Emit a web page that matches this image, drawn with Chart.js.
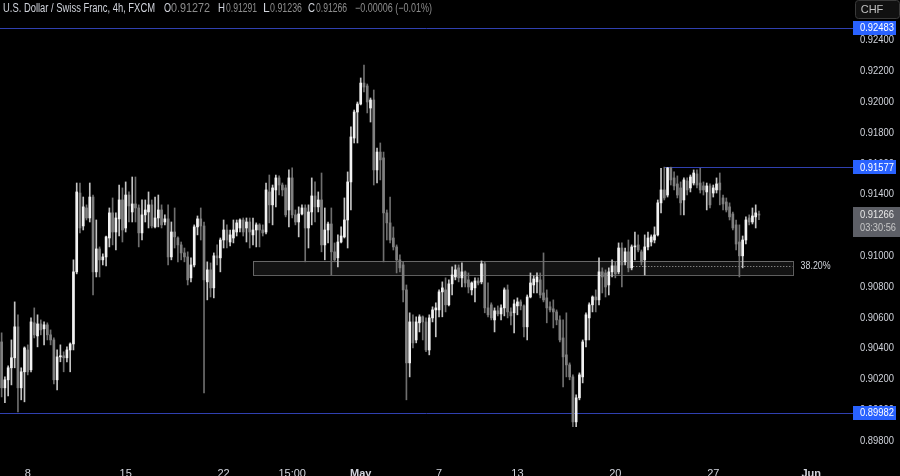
<!DOCTYPE html>
<html><head><meta charset="utf-8">
<script src="https://cdn.jsdelivr.net/npm/chart.js@4.4.1/dist/chart.umd.min.js"></script>
<style>html,body{margin:0;padding:0;background:#000;}#wrap{position:relative;width:900px;height:476px;}</style>
</head><body><div id="wrap"><canvas id="c"></canvas></div>
<script>
// ---- data (USD/CHF 4h, FXCM) ----
const opens = [
0.90442,0.90144,0.90196,0.90274,0.90339,0.90540,0.90144,0.90248,0.90390,0.90261,
0.90566,0.90481,0.90559,0.90527,0.90553,0.90488,0.90455,0.90196,0.90345,0.90352,
0.90339,0.90390,0.90429,0.90897,0.91409,0.91195,0.91312,0.91247,0.91383,0.90897,
0.91046,0.90975,0.90994,0.91117,0.91280,0.91156,0.91241,0.91364,0.91182,0.91396,
0.91286,0.91338,0.91312,0.91150,0.91267,0.91286,0.91332,0.91189,0.91247,0.91299,
0.91221,0.91241,0.90994,0.91156,0.91117,0.91072,0.91020,0.90994,0.90858,0.90942,
0.91189,0.91241,0.91195,0.90832,0.90910,0.90793,0.91001,0.90988,0.91104,0.91169,
0.91091,0.91117,0.91156,0.91182,0.91234,0.91182,0.91221,0.91137,0.91169,0.91202,
0.91169,0.91156,0.91416,0.91332,0.91429,0.91507,0.91461,0.91442,0.91299,0.91507,
0.91267,0.91221,0.91273,0.91312,0.91182,0.91286,0.91390,0.91319,0.91364,0.91072,
0.91169,0.91208,0.91027,0.90988,0.91091,0.91124,0.91234,0.91481,0.91766,0.91935,
0.91987,0.92123,0.92104,0.91961,0.92013,0.91559,0.91675,0.91637,0.91280,0.91215,
0.91117,0.91059,0.90975,0.90942,0.90780,0.90306,0.90572,0.90455,0.90566,0.90605,
0.90572,0.90390,0.90598,0.90650,0.90650,0.90767,0.90780,0.90683,0.90819,0.90864,
0.90923,0.90858,0.90897,0.90845,0.90780,0.90793,0.90838,0.90832,0.90949,0.90663,
0.90683,0.90585,0.90644,0.90624,0.90663,0.90780,0.90637,0.90631,0.90676,0.90702,
0.90676,0.90540,0.90734,0.90812,0.90832,0.90845,0.90760,0.90728,0.90670,0.90657,
0.90637,0.90585,0.90468,0.90358,0.90293,0.90215,0.89923,0.90079,0.90215,0.90455,
0.90598,0.90683,0.90734,0.90715,0.90897,0.90890,0.90812,0.90897,0.90936,0.90897,
0.91052,0.90962,0.91027,0.90923,0.91059,0.91072,0.91027,0.90975,0.91059,0.91091,
0.91104,0.91137,0.91345,0.91429,0.91396,0.91572,0.91507,0.91468,0.91442,0.91364,
0.91487,0.91442,0.91474,0.91533,0.91474,0.91455,0.91416,0.91455,0.91409,0.91429,
0.91474,0.91377,0.91351,0.91319,0.91273,0.91202,0.91091,0.91001,0.91104,0.91247,
0.91221,0.91254,0.91272];
const highs = [
0.90501,0.90215,0.90287,0.90455,0.90702,0.90618,0.90274,0.90410,0.90423,0.90598,
0.90663,0.90618,0.90585,0.90572,0.90566,0.90520,0.90468,0.90390,0.90423,0.90378,
0.90410,0.90436,0.90975,0.91474,0.91474,0.91383,0.91332,0.91474,0.91396,0.91234,
0.91059,0.91014,0.91130,0.91312,0.91377,0.91280,0.91461,0.91442,0.91481,0.91416,
0.91513,0.91513,0.91332,0.91364,0.91364,0.91416,0.91364,0.91383,0.91396,0.91332,
0.91267,0.91332,0.91221,0.91312,0.91124,0.91091,0.91052,0.91027,0.90988,0.91202,
0.91260,0.91312,0.91221,0.90962,0.90955,0.91020,0.91072,0.91117,0.91234,0.91202,
0.91169,0.91234,0.91234,0.91241,0.91247,0.91247,0.91247,0.91247,0.91215,0.91210,
0.91202,0.91474,0.91526,0.91461,0.91526,0.91520,0.91474,0.91461,0.91559,0.91572,
0.91299,0.91319,0.91332,0.91332,0.91332,0.91507,0.91481,0.91416,0.91539,0.91312,
0.91221,0.91312,0.91085,0.91137,0.91189,0.91377,0.91546,0.91838,0.91948,0.92000,
0.92156,0.92240,0.92117,0.92026,0.92078,0.91701,0.91734,0.91675,0.91299,0.91383,
0.91189,0.91072,0.91007,0.90962,0.90812,0.90631,0.90618,0.90605,0.90618,0.90611,
0.90598,0.90618,0.90670,0.90696,0.90780,0.90832,0.90858,0.90845,0.90929,0.90942,
0.90942,0.90955,0.90903,0.90890,0.90832,0.90858,0.90858,0.90968,0.90962,0.90825,
0.90696,0.90663,0.90676,0.90683,0.90793,0.90812,0.90663,0.90715,0.90728,0.90715,
0.90683,0.90747,0.90890,0.90871,0.90890,0.90890,0.91020,0.90780,0.90702,0.90715,
0.90650,0.90611,0.90585,0.90631,0.90306,0.90228,0.90098,0.90241,0.90455,0.90631,
0.90696,0.90741,0.90780,0.90988,0.90923,0.90910,0.90923,0.90975,0.90962,0.91085,
0.91085,0.91052,0.91104,0.91072,0.91156,0.91137,0.91039,0.91137,0.91156,0.91137,
0.91189,0.91364,0.91570,0.91577,0.91575,0.91577,0.91546,0.91520,0.91481,0.91507,
0.91507,0.91526,0.91559,0.91559,0.91570,0.91481,0.91474,0.91468,0.91461,0.91507,
0.91539,0.91396,0.91377,0.91345,0.91286,0.91234,0.91202,0.91130,0.91254,0.91267,
0.91312,0.91332,0.91291];
const lows = [
0.90085,0.90047,0.90092,0.90163,0.90274,0.89988,0.90066,0.90053,0.90228,0.90248,
0.90468,0.90410,0.90488,0.90423,0.90455,0.90423,0.90170,0.90131,0.90313,0.90248,
0.90313,0.90248,0.90390,0.90884,0.91150,0.91169,0.91234,0.91221,0.90747,0.90864,
0.90864,0.90942,0.90936,0.91059,0.91072,0.91039,0.91130,0.91091,0.91156,0.91221,
0.91221,0.91221,0.91059,0.91104,0.91221,0.91182,0.91182,0.91182,0.91189,0.91182,
0.91202,0.90942,0.90975,0.91052,0.90962,0.90975,0.90962,0.90812,0.90832,0.90929,
0.91137,0.91104,0.90111,0.90715,0.90734,0.90728,0.90942,0.90897,0.91052,0.91052,
0.91065,0.91085,0.91130,0.91156,0.91130,0.91091,0.91052,0.91072,0.91059,0.91059,
0.91130,0.91143,0.91215,0.91202,0.91319,0.91396,0.91390,0.91254,0.91189,0.91247,
0.91202,0.91124,0.91267,0.90962,0.91052,0.91202,0.91221,0.91286,0.91027,0.90975,
0.91085,0.90877,0.90962,0.90929,0.91085,0.91117,0.91052,0.91299,0.91734,0.91734,
0.91981,0.92065,0.91929,0.91870,0.91461,0.91474,0.91494,0.90962,0.91104,0.91085,
0.91039,0.90890,0.90897,0.90702,0.90066,0.90215,0.90403,0.90436,0.90507,0.90455,
0.90378,0.90358,0.90572,0.90475,0.90605,0.90605,0.90637,0.90676,0.90747,0.90845,
0.90832,0.90799,0.90799,0.90760,0.90747,0.90702,0.90812,0.90819,0.90631,0.90605,
0.90585,0.90507,0.90611,0.90585,0.90611,0.90598,0.90553,0.90501,0.90618,0.90650,
0.90475,0.90455,0.90728,0.90760,0.90760,0.90728,0.90702,0.90566,0.90637,0.90533,
0.90553,0.90442,0.90150,0.90215,0.90196,0.89891,0.89891,0.90066,0.90176,0.90410,
0.90455,0.90637,0.90637,0.90683,0.90760,0.90734,0.90747,0.90864,0.90858,0.90884,
0.90799,0.90942,0.90897,0.90910,0.90975,0.91027,0.90942,0.90877,0.91039,0.91065,
0.91085,0.91130,0.91280,0.91364,0.91383,0.91461,0.91429,0.91377,0.91267,0.91267,
0.91396,0.91416,0.91461,0.91442,0.91409,0.91396,0.91299,0.91312,0.91383,0.91409,
0.91332,0.91299,0.91286,0.91234,0.91169,0.91039,0.90864,0.90923,0.91078,0.91202,
0.91208,0.91182,0.91236];
const closes = [
0.90144,0.90196,0.90274,0.90339,0.90540,0.90144,0.90248,0.90403,0.90248,0.90572,
0.90488,0.90559,0.90520,0.90553,0.90488,0.90455,0.90196,0.90345,0.90352,0.90339,
0.90390,0.90429,0.90897,0.91416,0.91182,0.91319,0.91247,0.91383,0.90897,0.91046,
0.90975,0.90994,0.91124,0.91280,0.91156,0.91247,0.91364,0.91169,0.91396,0.91325,
0.91338,0.91312,0.91150,0.91267,0.91299,0.91332,0.91195,0.91247,0.91299,0.91202,
0.91241,0.90994,0.91156,0.91124,0.91072,0.91020,0.90994,0.90845,0.90942,0.91189,
0.91241,0.91195,0.90845,0.90910,0.90793,0.91001,0.90988,0.91104,0.91169,0.91104,
0.91137,0.91169,0.91215,0.91234,0.91156,0.91221,0.91156,0.91169,0.91202,0.91169,
0.91150,0.91429,0.91332,0.91442,0.91507,0.91461,0.91429,0.91267,0.91507,0.91267,
0.91221,0.91273,0.91312,0.91182,0.91286,0.91390,0.91319,0.91364,0.91072,0.91169,
0.91208,0.91027,0.90975,0.91091,0.91130,0.91234,0.91481,0.91773,0.91935,0.91987,
0.92123,0.92097,0.92000,0.92013,0.91559,0.91675,0.91624,0.91280,0.91215,0.91104,
0.91059,0.90975,0.90923,0.90780,0.90306,0.90572,0.90436,0.90572,0.90605,0.90572,
0.90390,0.90598,0.90650,0.90663,0.90767,0.90793,0.90683,0.90819,0.90877,0.90910,
0.90858,0.90897,0.90825,0.90799,0.90825,0.90838,0.90825,0.90949,0.90663,0.90618,
0.90598,0.90644,0.90624,0.90663,0.90780,0.90637,0.90611,0.90689,0.90702,0.90676,
0.90540,0.90734,0.90825,0.90851,0.90864,0.90747,0.90715,0.90663,0.90650,0.90637,
0.90585,0.90455,0.90345,0.90293,0.90215,0.89923,0.90079,0.90228,0.90442,0.90618,
0.90683,0.90734,0.90715,0.90897,0.90864,0.90799,0.90897,0.90936,0.90884,0.91052,
0.90942,0.91027,0.90923,0.91059,0.91065,0.91039,0.90962,0.91059,0.91117,0.91124,
0.91137,0.91345,0.91429,0.91377,0.91572,0.91494,0.91455,0.91396,0.91345,0.91494,
0.91429,0.91513,0.91539,0.91461,0.91429,0.91429,0.91455,0.91332,0.91442,0.91468,
0.91429,0.91338,0.91299,0.91254,0.91182,0.91078,0.91001,0.91104,0.91234,0.91221,
0.91260,0.91280,0.91266];

const totalSlots = 261;                       // bar slots incl. empty right margin
const tickLabels = {8:'8',38:'15',68:'22',89:'15:00',110:'May',134:'7',158:'13',188:'20',218:'27',248:'Jun'};
const boldTicks = ['May','Jun'];
const priceTicks = [0.898,0.900,0.902,0.904,0.906,0.908,0.910,0.912,0.914,0.916,0.918,0.920,0.922,0.924];
const priceMin = 0.897403, priceMax = 0.926623;
const levels = [{price:0.92483, fromIdx:null},{price:0.91577, fromIdx:203},{price:0.89982, fromIdx:null}];
const lastPrice = 0.91266, countdown = '03:30:56';
const zone = {fromIdx:77, toIdx:242.3, top:0.90968, bottom:0.90877, fib:0.90935, fibFromIdx:193.5, fibLabel:'38.20%'};
const headerTitle = 'U.S. Dollar / Swiss Franc, 4h, FXCM';
const ohlcText = [['O','0.91272'],['H','0.91291'],['L','0.91236'],['C','0.91266']];
const changeText = '\u22120.00006 (\u22120.01%)';
const currency = 'CHF';

const FONT = '"Liberation Sans", Arial, sans-serif';
const upBody = '#f2f2f2', dnBody = '#808080', upWick = '#c4c4c4', dnWick = '#6e6e6e';
const isUp = closes.map((c,i)=>c>=opens[i]);

const overlay = {
  id:'overlay',
  beforeDatasetsDraw(chart){
    const {ctx, chartArea:a, scales:{x,y}} = chart;
    ctx.save();
    const zx1 = x.getPixelForValue(zone.fromIdx), zx2 = x.getPixelForValue(zone.toIdx);
    const zy1 = y.getPixelForValue(zone.top), zy2 = y.getPixelForValue(zone.bottom);
    ctx.fillStyle = 'rgba(255,255,255,0.075)';
    ctx.fillRect(zx1, zy1, zx2-zx1, zy2-zy1);
    ctx.strokeStyle = 'rgba(190,190,190,0.5)'; ctx.lineWidth = 1;
    ctx.strokeRect(Math.round(zx1)+0.5, Math.round(zy1)+0.5, Math.round(zx2-zx1), Math.round(zy2-zy1));
    const fy = Math.round(y.getPixelForValue(zone.fib))+0.5;
    ctx.setLineDash([1,2]); ctx.strokeStyle = 'rgba(210,210,210,0.8)';
    ctx.beginPath(); ctx.moveTo(x.getPixelForValue(zone.fibFromIdx), fy); ctx.lineTo(zx2, fy); ctx.stroke();
    ctx.setLineDash([]);
    ctx.strokeStyle = '#3040b0'; ctx.lineWidth = 1;
    levels.forEach(l=>{
      const ly = Math.round(y.getPixelForValue(l.price))+0.5;
      const lx = l.fromIdx===null ? a.left : x.getPixelForValue(l.fromIdx);
      ctx.beginPath(); ctx.moveTo(lx, ly); ctx.lineTo(a.right+1, ly); ctx.stroke();
    });
    ctx.restore();
  },
  afterDraw(chart){
    const {ctx, chartArea:a, scales:{x,y}} = chart;
    ctx.save();
    ctx.textBaseline = 'middle';
    ctx.font = '11px '+FONT; ctx.fillStyle = '#d1d4dc'; ctx.textAlign = 'left';
    priceTicks.forEach(p=>{ ctx.fillText(p.toFixed(5), 860, y.getPixelForValue(p), 34); });
    levels.forEach(l=>{
      const ly = y.getPixelForValue(l.price);
      ctx.fillStyle = '#2962ff'; ctx.fillRect(853, Math.round(ly)-7, 43, 14);
      ctx.fillStyle = '#ffffff'; ctx.fillText(l.price.toFixed(5), 860, ly+0.5, 34);
    });
    const py = y.getPixelForValue(lastPrice);
    ctx.fillStyle = '#5d5f66'; ctx.fillRect(853, Math.round(py)-8, 47, 30);
    ctx.fillStyle = '#e8e8e8'; ctx.fillText(lastPrice.toFixed(5), 860, py, 34);
    ctx.fillStyle = '#c8c8c8'; ctx.fillText(countdown, 860, py+13, 36);
    ctx.strokeStyle = '#3a3a3a'; ctx.fillStyle = '#111';
    ctx.beginPath(); ctx.roundRect(855.5, 0.5, 44, 18, 3); ctx.fill(); ctx.stroke();
    ctx.fillStyle = '#c0c0c0'; ctx.textAlign = 'center'; ctx.fillText(currency, 872, 10);
    ctx.textAlign = 'left'; ctx.fillStyle = '#d1d4dc'; ctx.font = '11px '+FONT;
    ctx.fillText(zone.fibLabel, x.getPixelForValue(zone.toIdx)+8, y.getPixelForValue(zone.fib), 30);
    ctx.font = '12px '+FONT; ctx.fillStyle = '#d1d4dc';
    ctx.fillText(headerTitle, 3, 9, 152);
    const pos = [[164,171,39],[218,226,31],[263,270,32],[308,316,31]];
    ohlcText.forEach((t,i)=>{
      ctx.fillStyle = '#d1d4dc'; ctx.fillText(t[0], pos[i][0], 9, 7);
      ctx.fillStyle = '#8c8c8c'; ctx.fillText(t[1], pos[i][1], 9, pos[i][2]);
    });
    ctx.fillStyle = '#8c8c8c'; ctx.fillText(changeText, 355, 9, 77);
    ctx.restore();
  }
};

new Chart(document.getElementById('c'), {
  type: 'bar',
  data: {
    labels: Array.from({length: totalSlots}, (_, i) => String(i)),
    datasets: [
      { data: lows.map((l,i)=>[l, highs[i]]), backgroundColor: isUp.map(u=>u?upWick:dnWick),
        barThickness: 1, grouped: false, borderWidth: 0, order: 2 },
      { data: opens.map((o,i)=>[o, closes[i]]), backgroundColor: isUp.map(u=>u?upBody:dnBody),
        barThickness: 2, grouped: false, borderWidth: 0, minBarLength: 1, order: 1 }
    ]
  },
  options: {
    responsive: true, maintainAspectRatio: false, animation: false,
    layout: { padding: 0 },
    plugins: { legend: { display: false }, tooltip: { enabled: false } },
    scales: {
      x: {
        grid: { display: false }, border: { display: false },
        afterBuildTicks: s => { s.ticks = s.ticks.filter(t => tickLabels[t.value] !== undefined); },
        afterFit: s => { s.height = 26; },
        ticks: {
          autoSkip: false, maxRotation: 0, padding: 9, color: '#d1d4dc',
          callback: v => tickLabels[v] ?? '',
          font: c => ({ family: FONT, size: 11, weight: (c.tick && boldTicks.includes(tickLabels[c.tick.value])) ? 'bold' : 'normal' })
        }
      },
      y: {
        position: 'right', min: priceMin, max: priceMax,
        grid: { display: false }, border: { display: false },
        afterFit: s => { s.width = 48; },
        ticks: { display: false }
      }
    }
  },
  plugins: [overlay]
});
</script></body></html>
